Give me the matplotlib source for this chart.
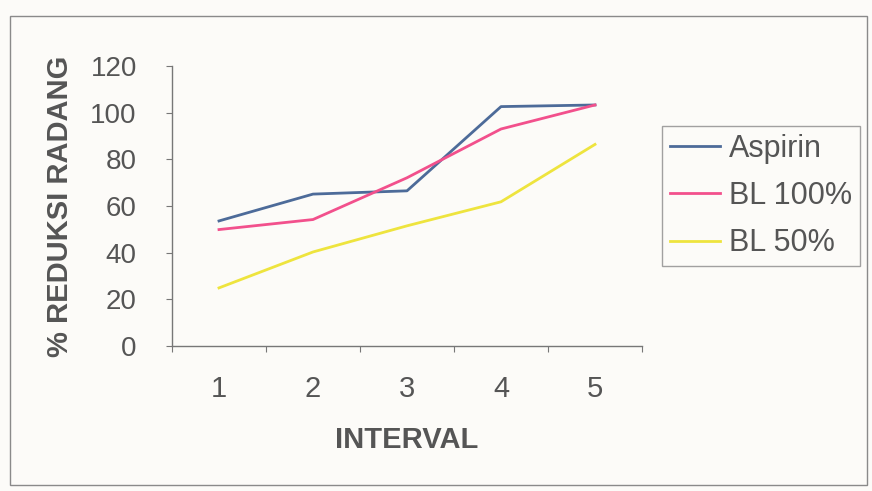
import matplotlib
matplotlib.use("Agg")
import matplotlib.pyplot as plt
from matplotlib.patches import Rectangle

plt.rcParams['font.family'] = ['Liberation Sans', 'DejaVu Sans']

intervals = [1, 2, 3, 4, 5]
aspirin = [53.6, 65.1, 66.5, 102.6, 103.3]
bl100 = [49.9, 54.2, 72.1, 93.0, 103.3]
bl50 = [24.9, 40.3, 51.5, 61.8, 86.4]

fig = plt.figure(figsize=(8.72, 4.91), dpi=100)
fig.patch.set_facecolor('#fcfbf8')

# outer chart border
fig.patches.append(Rectangle((10/872, 1-485/491), 857/872, 469/491,
                             transform=fig.transFigure, fill=False,
                             edgecolor='#8a8a8a', lw=1.0))

ax = fig.add_axes([172/872, 1-346/491, 470/872, 280/491])
ax.set_facecolor('none')

ax.plot(intervals, aspirin, color='#4d6b99', lw=2.0, label='Aspirin')
ax.plot(intervals, bl100, color='#f2508c', lw=2.0, label='BL 100%')
ax.plot(intervals, bl50, color='#eee43e', lw=2.0, label='BL 50%')

ax.set_xlim(0.5, 5.5)
ax.set_ylim(0, 120)
ax.set_yticks(range(0, 121, 20))
ax.set_xticks([i + 0.5 for i in range(0, 6)])
ax.set_xticklabels([])
ax.set_xticks(intervals, minor=True)
ax.set_xticklabels([str(i) for i in intervals], minor=True)
ax.tick_params(axis='x', which='minor', length=0, pad=21, labelsize=21, labelcolor='#555555')
ax.tick_params(axis='x', which='major', length=4.3, direction='out', color='#777777')
ax.tick_params(axis='y', length=4.3, direction='out', color='#777777', pad=21,
               labelsize=20, labelcolor='#555555')

for s in ['top', 'right']:
    ax.spines[s].set_visible(False)
for s in ['left', 'bottom']:
    ax.spines[s].set_color('#777777')
    ax.spines[s].set_linewidth(1.0)

ax.set_ylabel('% REDUKSI RADANG', fontsize=21, fontweight='bold', color='#555555', va='center')
ax.yaxis.set_label_coords(-(172-60)/470, 0.5)
ax.set_xlabel('INTERVAL', fontsize=21, fontweight='bold', color='#555555', va='center')
ax.xaxis.set_label_coords(0.5, -(440-346)/280)

leg = fig.legend(loc='upper left', bbox_to_anchor=(662/872, 1-126/491),
                 fontsize=22, frameon=True, fancybox=False, borderaxespad=0,
                 handlelength=1.65, handletextpad=0.3, labelspacing=0.57,
                 borderpad=0.25)
leg.get_frame().set_edgecolor('#8a8a8a')
leg.get_frame().set_linewidth(1.0)
leg.get_frame().set_facecolor('#fcfbf8')
for t in leg.get_texts():
    t.set_color('#555555')

fig.savefig('out.png', dpi=100, facecolor=fig.get_facecolor())
